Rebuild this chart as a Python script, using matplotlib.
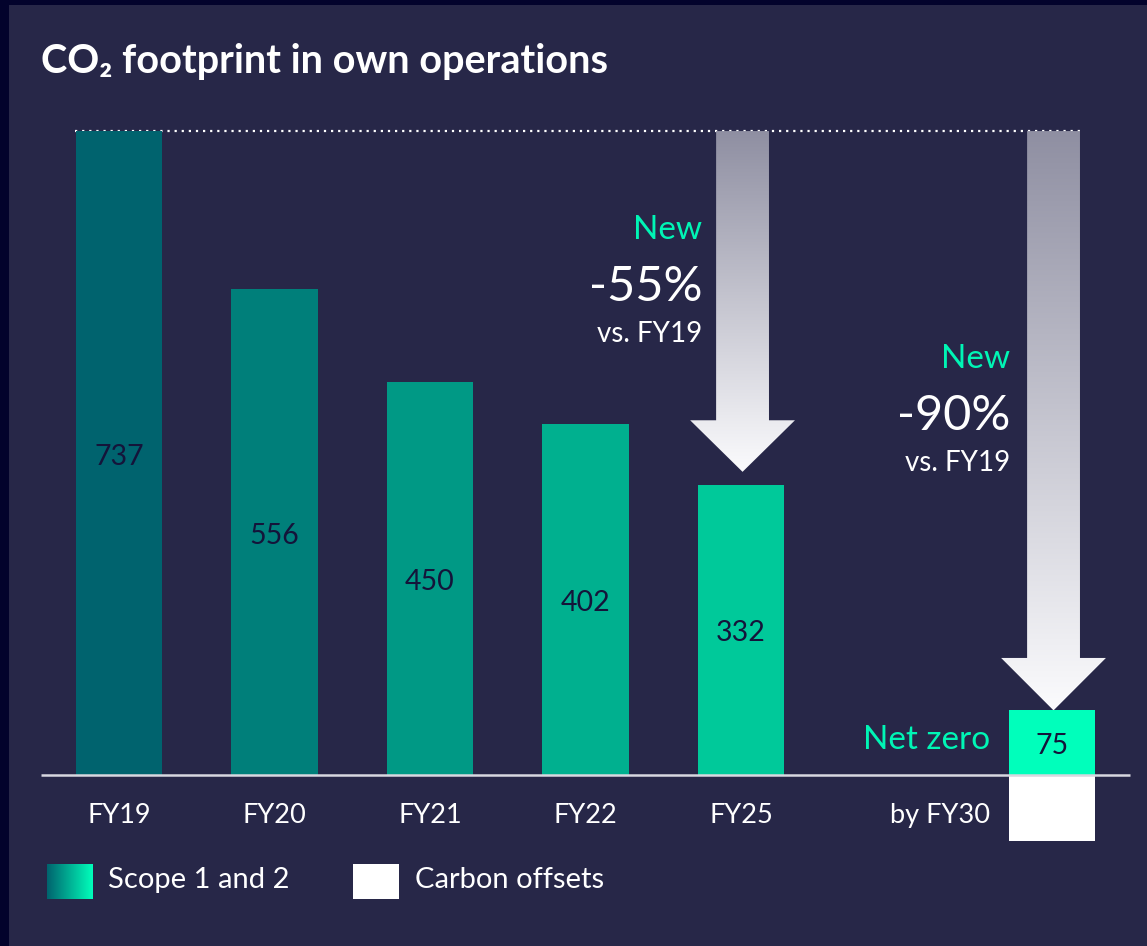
import matplotlib
matplotlib.use("Agg")
import matplotlib.pyplot as plt
import numpy as np
from matplotlib.patches import Polygon, Rectangle
from matplotlib.colors import LinearSegmentedColormap

plt.rcParams['font.family'] = ['Lato', 'DejaVu Sans']

# ---- data ----
categories = ["FY19", "FY20", "FY21", "FY22", "FY25", "by FY30"]
positions = [0, 1, 2, 3, 4, 6]
scope12 = [737, 556, 450, 402, 332, 75]
offsets = [0, 0, 0, 0, 0, 75]
bar_colors = ["#00636e", "#007f7a", "#009985", "#00b08f", "#00c99a", "#00ffbb"]
targets = [("New", "-55%", "vs. FY19"), ("New", "-90%", "vs. FY19")]
target_pos = [4, 6]
legend_labels = ["Scope 1 and 2", "Carbon offsets"]
title = "CO₂ footprint in own operations"

BG = "#272748"
OUTER = "#03032c"
GREEN = "#00f5b5"
DARK = "#14143a"

fig = plt.figure(figsize=(11.47, 9.46), dpi=100, facecolor=OUTER)
# inner panel
fig.patches.append(Rectangle((9 / 1147, 0), 1 - 9 / 1147, 1 - 5 / 946,
                             transform=fig.transFigure, facecolor=BG,
                             edgecolor='none', zorder=-10))

ax = fig.add_axes([33.5 / 1147, (946 - 879.9) / 946, 1104 / 1147, 803.9 / 946])
ax.set_xlim(-0.55, 6.55)
ax.set_ylim(-120, 800)
ax.axis('off')
ax.patch.set_alpha(0)

bw = 0.555
ax.bar(positions, scope12, width=bw, color=bar_colors, zorder=2)
ax.bar(positions, [-o for o in offsets], width=bw, color="white", zorder=2)

# value labels
for p, v in zip(positions, scope12):
    ax.text(p, v / 2 - 4, str(v), ha='center', va='center', fontsize=20.5,
            color=DARK, zorder=3)

# baseline and dotted reference line
ax.plot([-0.5, 6.5], [0, 0], color="#d8d8e0", lw=1.8, zorder=3,
        solid_capstyle='butt')
ax.plot([-0.28, 6.18], [737, 737], color="white", lw=1.6,
        linestyle=(0, (1, 2.2)), zorder=1)

# category labels
for p, c in zip(positions, categories):
    if c.startswith("by"):
        ax.text(p - 0.40, -46, c, ha='right', va='center', fontsize=19.5,
                color="white")
    else:
        ax.text(p, -46, c, ha='center', va='center', fontsize=19.5,
                color="white")

ax.text(6 - 0.40, 40, "Net zero", ha='right', va='center', fontsize=24,
        color=GREEN)

# gradient arrows
cmap = LinearSegmentedColormap.from_list("arr", ["#8f8fa2", "#fbfbfd"])
arrows = [(4.01, 737, 406, 347), (6.01, 737, 134, 74)]
for cx, ytop, yhead, ytip in arrows:
    sw = 0.17
    hw = 0.337
    verts = [(cx - sw, ytop), (cx + sw, ytop), (cx + sw, yhead),
             (cx + hw, yhead), (cx, ytip), (cx - hw, yhead),
             (cx - sw, yhead)]
    poly = Polygon(verts, closed=True, facecolor='none', edgecolor='none')
    ax.add_patch(poly)
    grad = np.linspace(0, 1, 256).reshape(-1, 1)
    im = ax.imshow(grad, cmap=cmap, aspect='auto',
                   extent=[cx - hw, cx + hw, ytip, ytop], origin='upper',
                   zorder=1.5)
    im.set_clip_path(poly)
ax.set_xlim(-0.55, 6.55)
ax.set_ylim(-120, 800)

# target annotations
ann_y = [(624, 559, 505), (476, 411, 357)]
for p, (t1, t2, t3), (y1, y2, y3) in zip(target_pos, targets, ann_y):
    xr = p - 0.25 if p == 4 else p - 0.27
    ax.text(xr, y1, t1, ha='right', va='center', fontsize=24, color=GREEN)
    ax.text(xr, y2, t2, ha='right', va='center', fontsize=35, color="white")
    ax.text(xr, y3, t3, ha='right', va='center', fontsize=20, color="white")

# title
fig.text(41 / 1147, 1 - 61 / 946, title, ha='left', va='center',
         fontsize=28.5, fontweight='bold', color="white")

# legend
lax = fig.add_axes([0, 0, 1, 1], facecolor='none')
lax.axis('off')
legcmap = LinearSegmentedColormap.from_list("leg", [bar_colors[0], bar_colors[-1]])
lax.imshow(np.linspace(0, 1, 256).reshape(1, -1), cmap=legcmap, aspect='auto',
           extent=[47, 93, 899, 864])
lax.add_patch(Rectangle((353, 864), 45.5, 35, facecolor='white', edgecolor='none'))
lax.text(108, 880, legend_labels[0], ha='left', va='center', fontsize=21,
         color='white')
lax.text(415, 880, legend_labels[1], ha='left', va='center', fontsize=21,
         color='white')
lax.set_xlim(0, 1147)
lax.set_ylim(946, 0)

fig.savefig("out.png", dpi=100, facecolor=OUTER)
